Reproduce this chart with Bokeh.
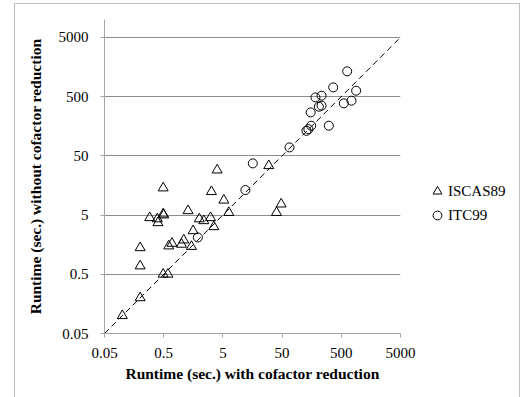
from bokeh.plotting import figure
from bokeh.layouts import row
from bokeh.models import (FixedTicker, CustomJSTickFormatter, Legend, LegendItem,
                          ColumnDataSource, Range1d)
from bokeh.embed import file_html
from bokeh.resources import INLINE

# ISCAS89 benchmarks (runtime with / without cofactor reduction, seconds)
iscas_with = [0.1, 0.2, 0.2, 0.2, 0.49, 0.59, 0.49, 0.29, 0.39, 0.40, 0.49, 0.5,
              0.61, 0.69, 1.0, 1.09, 1.47, 1.29, 1.57, 2.0, 2.38, 3.09, 3.51, 3.2,
              4.0, 5.19, 6.3, 29.8, 40.2, 48.2]
iscas_without = [0.1, 0.2, 0.69, 1.4, 0.5, 0.5, 14.3, 4.5, 4.3, 3.7, 5.2, 5.0,
                 1.5, 1.66, 1.6, 1.89, 1.47, 5.9, 2.71, 4.3, 4.0, 4.5, 3.17, 12.4,
                 28.7, 8.9, 5.5, 34.0, 5.5, 7.65]

# ITC99 benchmarks
itc_with = [1.89, 12.0, 16.0, 66.7, 129, 139, 155, 152, 183, 232, 209, 232,
            308, 365, 552, 628, 743, 891]
itc_without = [2.09, 13.2, 37.2, 69.3, 132, 141, 161, 270, 484, 517, 337, 351,
               161, 715, 384, 1333, 426, 628]

tick_values = [0.05, 0.5, 5, 50, 500, 5000]
diag = [0.05, 5000]
series_names = ["ISCAS89", "ITC99"]

FONT = "Liberation Serif"

p = figure(width=405, height=393, x_axis_type="log", y_axis_type="log",
           x_range=Range1d(0.05, 5000), y_range=Range1d(0.05, 10000),
           output_backend="svg", toolbar_location=None,
           min_border_left=89, min_border_right=20, min_border_top=15,
           min_border_bottom=64)
p.outline_line_color = None
p.background_fill_color = "white"
p.border_fill_color = "white"

# diagonal y = x
p.line(diag, diag, line_color="black", line_dash="6 4", line_width=1)

src1 = ColumnDataSource(dict(x=iscas_with, y=iscas_without))
src2 = ColumnDataSource(dict(x=itc_with, y=itc_without))
p.scatter("x", "y", source=src1, marker="triangle", size=10,
          fill_color=None, line_color="black", line_width=1)
p.scatter("x", "y", source=src2, marker="circle", size=9,
          fill_color=None, line_color="black", line_width=1)

fmt = CustomJSTickFormatter(code="return String(tick);")
for ax in (p.xaxis[0], p.yaxis[0]):
    ax.ticker = FixedTicker(ticks=tick_values, minor_ticks=[])
    ax.formatter = fmt
    ax.axis_line_color = "#a6a6a6"
    ax.major_tick_line_color = "#a6a6a6"
    ax.major_tick_out = 4
    ax.major_tick_in = 0
    ax.minor_tick_line_color = None
    ax.major_label_text_font = FONT
    ax.major_label_text_font_size = "15px"
    ax.major_label_text_color = "black"
    ax.axis_label_text_font = FONT
    ax.axis_label_text_font_size = "15.5px"
    ax.axis_label_text_font_style = "bold"
    ax.axis_label_text_color = "black"

p.xaxis.axis_label = "Runtime (sec.) with cofactor reduction"
p.yaxis.axis_label = "Runtime (sec.) without cofactor reduction"
p.xaxis.major_label_standoff = 10
p.xaxis.axis_label_standoff = 4
p.yaxis.major_label_standoff = 12
p.yaxis.axis_label_standoff = 12

p.xgrid.grid_line_color = None
p.ygrid.grid_line_color = "#8c8c8c"
p.ygrid.ticker = FixedTicker(ticks=tick_values[1:])

# legend panel: same data, drawn with ranges that hide the points
p2 = figure(width=99, height=393, x_range=Range1d(-2, -1), y_range=Range1d(-2, -1),
            output_backend="svg", toolbar_location=None, min_border=0)
p2.axis.visible = False
p2.grid.visible = False
p2.outline_line_color = None
p2.border_fill_color = "white"
l1 = p2.scatter("x", "y", source=src1, marker="triangle", size=10, fill_color=None,
                line_color="black", line_width=1)
l2 = p2.scatter("x", "y", source=src2, marker="circle", size=9, fill_color=None,
                line_color="black", line_width=1)
legend = Legend(items=[LegendItem(label=series_names[0], renderers=[l1]),
                       LegendItem(label=series_names[1], renderers=[l2])],
                location=(6, 107), orientation="vertical")
legend.border_line_color = None
legend.background_fill_alpha = 0
legend.padding = 0
legend.margin = 0
legend.spacing = 2
legend.glyph_width = 22
legend.glyph_height = 22
legend.label_standoff = 0
legend.label_text_font = FONT
legend.label_text_font_size = "15px"
legend.label_text_color = "black"
p2.add_layout(legend)

layout = row(p, p2, styles={"border-left": "1px solid #bfbfbf",
                            "border-top": "1px solid #bfbfbf",
                            "border-right": "1px solid #bfbfbf",
                            "margin-left": "14px", "margin-top": "3px"})

open("out.html", "w").write(file_html(layout, INLINE))
